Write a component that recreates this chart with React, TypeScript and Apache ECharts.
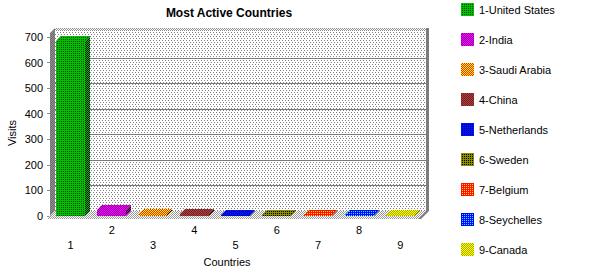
import { useEffect, useRef } from 'react';
import * as echarts from 'echarts';

// Chart data
const categories = ['1', '2', '3', '4', '5', '6', '7', '8', '9'];
const countryNames = [
  '1-United States',
  '2-India',
  '3-Saudi Arabia',
  '4-China',
  '5-Netherlands',
  '6-Sweden',
  '7-Belgium',
  '8-Seychelles',
  '9-Canada',
];
const visits = [686, 25, 8, 8, 4, 2, 2, 2, 2];
const yMax = 700;
const yStep = 100;
const backGridValues = [100, 200, 300, 400, 500, 600];

const FONT = '"Liberation Sans", Arial, Helvetica, sans-serif';
const DEPTH = 5; // 3D offset of the walls, in px
const BAR_DEPTH = 5; // 3D offset of the bar tops, in px

type Tile = {
  image: HTMLCanvasElement;
  repeat: 'repeat';
  imageWidth: number;
  imageHeight: number;
};

// Small bitmap tiles give the dithered, old-school fills
function makeTile(rows: string[][]): Tile {
  const h = rows.length;
  const w = rows[0].length;
  const c = document.createElement('canvas');
  c.width = w;
  c.height = h;
  const ctx = c.getContext('2d')!;
  rows.forEach((row, y) =>
    row.forEach((col, x) => {
      ctx.fillStyle = col;
      ctx.fillRect(x, y, 1, 1);
    })
  );
  return { image: c, repeat: 'repeat', imageWidth: w, imageHeight: h };
}
const checker = (a: string, b: string) => makeTile([[a, b], [b, a]]);
const speckle = (a: string, b: string) => makeTile([[a, a], [a, b]]);

export default function App() {
  const ref = useRef<HTMLDivElement>(null);

  useEffect(() => {
    if (!ref.current) return;
    const chart = echarts.init(ref.current, undefined, { renderer: 'svg' });

    const fronts = [
      speckle('#00c000', '#004800'),
      checker('#ff00ff', '#8a00a0'),
      checker('#ffff00', '#ff2000'),
      checker('#c00000', '#606060'),
      speckle('#0010f8', '#000080'),
      speckle('#8c8c00', '#000000'),
      speckle('#ff1000', '#ffe000'),
      speckle('#0000ff', '#00ffff'),
      checker('#ffff00', '#a8a800'),
    ];
    const mains = ['#00c000', '#c000d0', '#ffc000', '#c00000', '#0010f8', '#8c8c00', '#ff3000', '#0020ff', '#e0e000'];
    const sides = mains.map((c) => checker(c, '#000000'));

    const W = '#ffffff';
    const G = '#808080';
    const wallFill = makeTile([
      [G, W, W, G, W, W],
      [W, W, W, W, W, W],
      [W, G, W, W, G, W],
      [W, W, W, W, W, W],
    ]);
    const floorFill = checker('#9a9a9a', W);
    const bandFill = checker('#8c8c8c', W);
    const sideWallFill = checker('#8c8c8c', '#707070');

    const frameSeries = {
      type: 'custom',
      silent: true,
      data: [[0, 0]],
      renderItem: (params: any, api: any) => {
        const cs = params.coordSys;
        const x0 = cs.x;
        const x1 = cs.x + cs.width;
        const yt = cs.y;
        const yb = cs.y + cs.height;
        const D = DEPTH;
        const children: any[] = [
          {
            type: 'rect',
            shape: { x: x0 + D, y: yt - D - 1, width: x1 - x0, height: yb - yt + 1 },
            style: { fill: wallFill },
          },
          {
            type: 'rect',
            shape: { x: x0 + D, y: yt - D - 4, width: x1 - x0 + 3, height: 3 },
            style: { fill: bandFill },
          },
        ];
        backGridValues.forEach((v) => {
          const y = Math.round(api.coord([0, v])[1] - D) + 0.5;
          children.push({
            type: 'line',
            shape: { x1: x0 + D, y1: y, x2: x1 + D, y2: y },
            style: { stroke: '#7a7a7a', lineWidth: 1 },
          });
        });
        children.push(
          {
            type: 'polygon',
            shape: {
              points: [
                [x0, yt - 4],
                [x0 + D, yt - D - 4],
                [x0 + D, yb - D],
                [x0, yb],
              ],
            },
            style: { fill: sideWallFill },
          },
          {
            type: 'polygon',
            shape: {
              points: [
                [x0 - 3, yb + 3],
                [x0 + D, yb - D],
                [x1 + D, yb - D],
                [x1 - 3, yb + 3],
              ],
            },
            style: { fill: floorFill },
          },
          {
            type: 'polygon',
            shape: {
              points: [
                [x1 + D, yt - D - 4],
                [x1 + D + 3, yt - D - 4],
                [x1 + D + 3, yb - D],
                [x1, yb + 3],
                [x1 - 3, yb + 3],
                [x1 + D, yb - D],
              ],
            },
            style: { fill: '#7c7c7c' },
          }
        );
        return { type: 'group', children };
      },
    };

    const barSeries = countryNames.map((name, i) => ({
      type: 'custom',
      name,
      silent: true,
      itemStyle: { color: fronts[i] },
      data: [[i, visits[i]]],
      renderItem: (_params: any, api: any) => {
        const base = api.coord([api.value(0), 0]);
        const top = api.coord([api.value(0), api.value(1)]);
        const bw = api.size([1, 0])[0] * 0.7;
        const l = Math.round(base[0] - bw / 2);
        const r = Math.round(base[0] + bw / 2);
        const y0 = Math.round(base[1]);
        const y1 = Math.round(top[1]);
        const d = BAR_DEPTH;
        return {
          type: 'group',
          children: [
            {
              type: 'rect',
              shape: { x: l, y: y1, width: r - l, height: y0 - y1 },
              style: { fill: fronts[i] },
            },
            {
              type: 'polygon',
              shape: { points: [[l, y1], [l + d, y1 - d], [r + d, y1 - d], [r, y1]] },
              style: { fill: fronts[i] },
            },
            {
              type: 'polygon',
              shape: { points: [[r, y1], [r + d, y1 - d], [r + d, y0 - d], [r, y0]] },
              style: { fill: sides[i] },
            },
          ],
        };
      },
    }));

    chart.setOption({
      animation: false,
      backgroundColor: '#ffffff',
      grid: {
        left: 50,
        right: 188,
        top: 37,
        bottom: 58,
        containLabel: false,
        outerBoundsMode: 'none',
      },
      xAxis: {
        type: 'category',
        data: categories,
        boundaryGap: true,
        axisLine: { show: false },
        axisTick: { show: true, alignWithLabel: true, length: 3, lineStyle: { color: '#8c8c8c' } },
        axisLabel: {
          interval: 0,
          margin: 6,
          fontSize: 11,
          lineHeight: 15,
          fontFamily: FONT,
          color: '#000',
          formatter: (value: string, index: number) => (index % 2 === 0 ? '\n' + value : value),
        },
        splitLine: { show: false },
      },
      yAxis: {
        type: 'value',
        min: 0,
        max: yMax,
        interval: yStep,
        axisLine: { show: true, lineStyle: { color: '#8c8c8c' } },
        axisTick: { show: true, length: 3, lineStyle: { color: '#8c8c8c' } },
        axisLabel: { margin: 7, fontSize: 11, fontFamily: FONT, color: '#000' },
        splitLine: { show: false },
      },
      legend: {
        orient: 'vertical',
        left: 461,
        top: 3,
        padding: 0,
        itemWidth: 13,
        itemHeight: 13,
        itemGap: 17,
        icon: 'rect',
        selectedMode: false,
        textStyle: { fontSize: 11, fontFamily: FONT, color: '#000' },
        data: countryNames.map((n, i) => ({ name: n, itemStyle: { color: fronts[i] } })),
      },
      graphic: [
        {
          type: 'text',
          x: 229,
          y: 13,
          style: {
            text: 'Most Active Countries',
            font: `bold 12px ${FONT}`,
            fill: '#000',
            align: 'center',
            verticalAlign: 'middle',
          },
        },
        {
          type: 'text',
          x: 12,
          y: 133,
          rotation: Math.PI / 2,
          style: {
            text: 'Visits',
            font: `11px ${FONT}`,
            fill: '#000',
            align: 'center',
            verticalAlign: 'middle',
          },
        },
        {
          type: 'text',
          x: 227,
          y: 262,
          style: {
            text: 'Countries',
            font: `11px ${FONT}`,
            fill: '#000',
            align: 'center',
            verticalAlign: 'middle',
          },
        },
      ],
      series: [frameSeries, ...barSeries],
    });

    return () => chart.dispose();
  }, []);

  return (
    <div
      ref={ref}
      style={{ position: 'fixed', left: 0, top: 0, width: 609, height: 274, background: '#fff' }}
    />
  );
}
